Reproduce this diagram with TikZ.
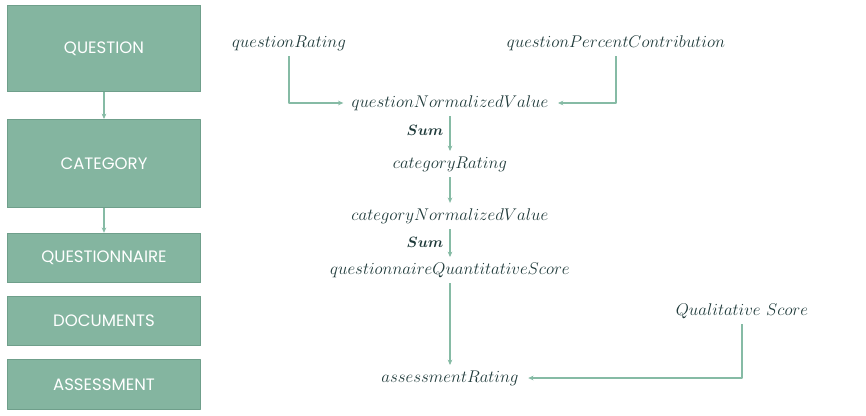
\RequirePackage{fix-cm}
\documentclass[tikz,border=0pt]{standalone}
\usepackage{bm}
\usepackage{fontspec}
\newfontfamily\boxfont{Poppins}
\usetikzlibrary{positioning,arrows.meta}
\definecolor{boxgreen}{HTML}{84B5A0}
\definecolor{boxedge}{HTML}{6F9F8B}
\definecolor{linkgreen}{HTML}{86BBA5}
\definecolor{mathink}{HTML}{1F3A3A}
\tikzset{
  level/.style={draw=boxedge, fill=boxgreen, line width=0.8pt, minimum width=145pt, text=white, font=\boxfont\fontsize{12.4}{14}\selectfont},
  var/.style={text=mathink, font=\fontsize{12.7}{15}\selectfont, inner sep=1pt},
  link/.style={->, draw=linkgreen, line width=0.9pt},
  sumlabel/.style={text=mathink, font=\fontsize{11.2}{13}\selectfont, inner sep=1pt}
}
\begin{document}
\begin{tikzpicture}[x=0.75pt,y=-0.75pt,>={Stealth[length=4pt,width=3.5pt]}, line join=round]
        \useasboundingbox (0,0) rectangle (866,415);
        %Levels
        \node[level, minimum height=65pt] (question) at (104,48.5) {QUESTION};
        \node[level, minimum height=66pt] (category) at (104,163.5) {CATEGORY};
        \node[level, minimum height=37pt] (questionnaire) at (104,258) {QUESTIONNAIRE};
        \node[level, minimum height=37pt] (documents) at (104,321) {DOCUMENTS};
        \node[level, minimum height=37pt] (assessment) at (104,384.5) {ASSESSMENT};
        \draw[link] (question) -- (category);
        \draw[link] (category) -- (questionnaire);
        %Variables
        \node[var] (qrating) at (289,43) {$questionRating$};
        \node[var] (qpercent) at (616,43) {$questionPercentContribution$};
        \node[var] (qnorm) at (450,103) {$questionNormalizedValue$};
        \node[var] (crating) at (450,164) {$categoryRating$};
        \node[var] (cnorm) at (450,216) {$categoryNormalizedValue$};
        \node[var] (qqscore) at (450,270) {$questionnaireQuantitativeScore$};
        \node[var] (arating) at (450,378) {$assessmentRating$};
        \node[var] (qlscore) at (742,311) {$Qualitative\ Score$};
        \node[sumlabel] (sumq) at (425,130) {$\bm{Sum}$};
        \node[sumlabel] (sumc) at (425,242) {$\bm{Sum}$};
        \draw[link] ([yshift=-3pt]qrating.south) |- ([xshift=-5pt]qnorm.west);
        \draw[link] ([yshift=-3pt]qpercent.south) |- ([xshift=6pt]qnorm.east);
        \draw[link] ([yshift=-3pt]qnorm.south) -- ([yshift=3pt]crating.north);
        \draw[link] ([yshift=-3pt]crating.south) -- ([yshift=3pt]cnorm.north);
        \draw[link] ([yshift=-3pt]cnorm.south) -- ([yshift=3pt]qqscore.north);
        \draw[link] ([yshift=-3pt]qqscore.south) -- ([yshift=3pt]arating.north);
        \draw[link] ([yshift=-3pt]qlscore.south) |- ([xshift=6pt]arating.east);
\end{tikzpicture}
\end{document}
